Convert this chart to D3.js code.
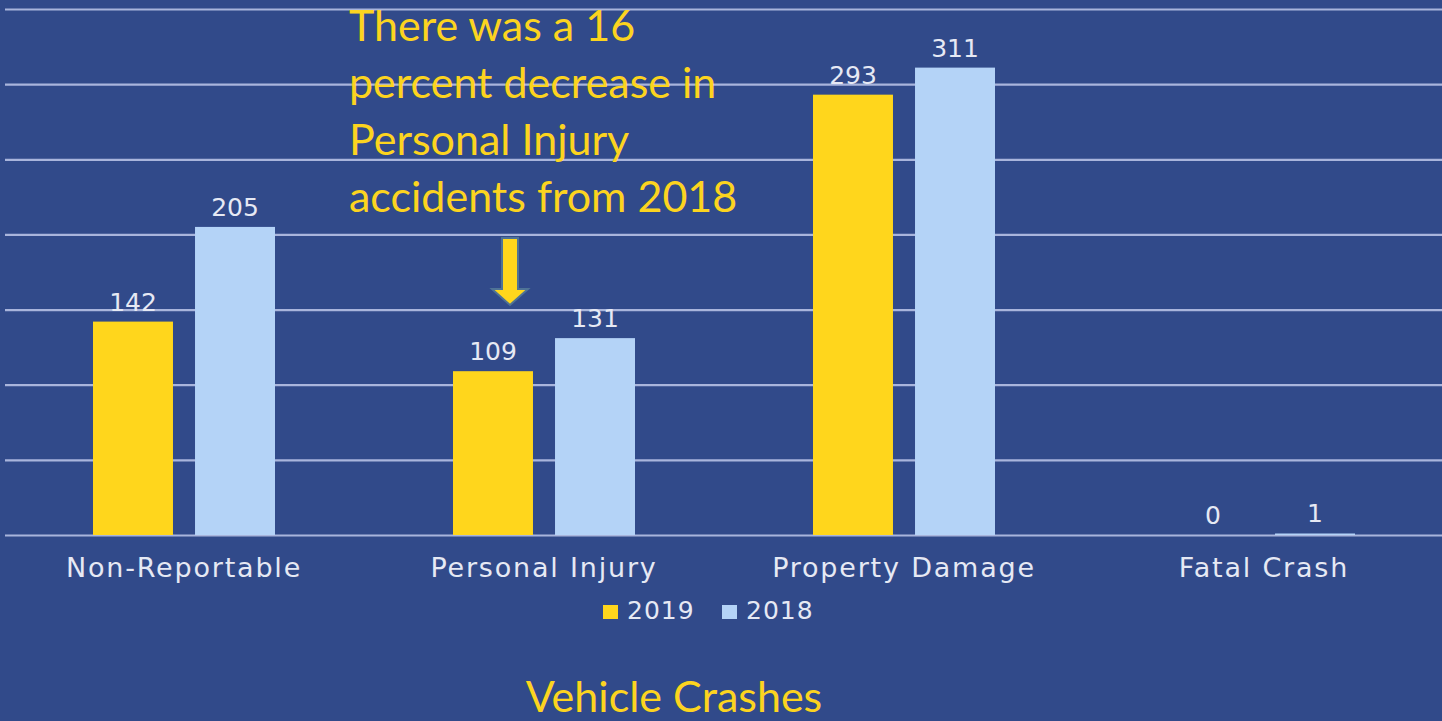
<!DOCTYPE html>
<html>
<head>
<meta charset="utf-8">
<script src="https://cdn.jsdelivr.net/npm/d3@7"></script>
<style>
  html, body { margin: 0; padding: 0; background: #314a8a; }
  svg { display: block; }
</style>
</head>
<body>
<svg id="chart" width="1442" height="721"></svg>
<script>
// data
const categories = ["Non-Reportable", "Personal Injury", "Property Damage", "Fatal Crash"];
const seriesNames = ["2019", "2018"];
const values2019 = [142, 109, 293, 0];
const values2018 = [205, 131, 311, 1];
const yTicks = [0, 50, 100, 150, 200, 250, 300, 350];
const noteLines = ["There was a 16", "percent decrease in", "Personal Injury", "accidents from 2018"];
const chartTitle = "Vehicle Crashes";

const colors = {"2019": "#ffd61c", "2018": "#b4d3f7"};
const bg = "#314a8a";

let svg = d3.select("#chart");
let W = 1442, H = 721;

svg.append("rect").attr("width", W).attr("height", H).attr("fill", bg);

// scales
let margin = {top: 9, right: -2, bottom: 186, left: 4};
let xScale = d3.scaleBand()
    .domain(categories)
    .range([margin.left, W - margin.right])
    .padding(0);
let xInner = d3.scaleBand()
    .domain(seriesNames)
    .range([89, 271])
    .paddingInner(0.216)
    .paddingOuter(0);
let yScale = d3.scaleLinear()
    .domain([0, 350])
    .range([H - margin.bottom, margin.top]);

// gridlines
let grid = svg.append("g")
    .attr("class", "grid")
    .attr("transform", "translate(5,0)")
    .call(d3.axisLeft(yScale).tickValues(yTicks).tickSize(-(W - 5)).tickFormat(""));
grid.select(".domain").remove();
grid.selectAll("line")
    .attr("stroke", "#a9b5dc")
    .attr("stroke-width", 2.2);

// bars
let rows = categories.map(function(c, i) {
    return {cat: c, vals: [
        {key: "2019", v: values2019[i]},
        {key: "2018", v: values2018[i]}
    ]};
});

let groups = svg.append("g").attr("class", "bars")
    .selectAll("g")
    .data(rows)
    .enter().append("g")
    .attr("transform", function(d) { return `translate(${xScale(d.cat)},0)`; });

groups.selectAll("rect")
    .data(function(d) { return d.vals; })
    .enter().append("rect")
    .attr("x", function(d) { return xInner(d.key); })
    .attr("y", function(d) { return yScale(d.v); })
    .attr("width", xInner.bandwidth())
    .attr("height", function(d) { return yScale(0) - yScale(d.v); })
    .attr("fill", function(d) { return colors[d.key]; });

groups.selectAll("text")
    .data(function(d) { return d.vals; })
    .enter().append("text")
    .attr("x", function(d) { return xInner(d.key) + xInner.bandwidth() / 2; })
    .attr("y", function(d) { return yScale(d.v) - 11; })
    .attr("text-anchor", "middle")
    .attr("font-family", "'Century Gothic', 'DejaVu Sans', sans-serif")
    .attr("font-size", 25)
    .attr("fill", "#e6e9f4")
    .text(function(d) { return d.v; });

// category labels
let xAxis = svg.append("g")
    .attr("class", "x-axis")
    .attr("transform", `translate(0, ${yScale(0)})`)
    .call(d3.axisBottom(xScale).tickSize(0).tickPadding(0));
xAxis.select(".domain").remove();
xAxis.selectAll("text")
    .attr("dy", null)
    .attr("y", 42)
    .attr("font-family", "'Century Gothic', 'DejaVu Sans', sans-serif")
    .attr("font-size", 27)
    .attr("letter-spacing", 1.8)
    .attr("fill", "#e6e9f4");

// legend
let legend = svg.append("g").attr("class", "legend");
let legendX = {"2019": 603, "2018": 722};
seriesNames.forEach(function(s) {
    legend.append("rect")
        .attr("x", legendX[s])
        .attr("y", 605)
        .attr("width", 15)
        .attr("height", 14)
        .attr("fill", colors[s]);
    legend.append("text")
        .attr("x", legendX[s] + 24)
        .attr("y", 619)
        .attr("font-family", "'Century Gothic', 'DejaVu Sans', sans-serif")
        .attr("font-size", 25)
        .attr("letter-spacing", 1)
        .attr("fill", "#e6e9f4")
        .text(s);
});

// annotation
let note = svg.append("g").attr("class", "note");
note.selectAll("text")
    .data(noteLines)
    .enter().append("text")
    .attr("x", 349)
    .attr("y", function(d, i) { return 41 + i * 57; })
    .attr("font-family", "Lato, 'Noto Sans', sans-serif")
    .attr("font-size", 43)
    .attr("fill", "#fcd41f")
    .text(function(d) { return d; });

// arrow pointing at Personal Injury
let ax = 510;
let arrowPts = [
    [ax - 8, 238], [ax + 8, 238], [ax + 8, 289], [ax + 18, 289],
    [ax, 305], [ax - 18, 289], [ax - 8, 289]
];
note.append("path")
    .attr("d", d3.line()(arrowPts) + "Z")
    .attr("fill", "#ffd61c")
    .attr("stroke", "#4f7396")
    .attr("stroke-width", 2);

// title
svg.append("text")
    .attr("x", 674)
    .attr("y", 712)
    .attr("text-anchor", "middle")
    .attr("font-family", "Lato, 'Noto Sans', sans-serif")
    .attr("font-size", 43)
    .attr("fill", "#fcd41f")
    .text(chartTitle);
</script>
</body>
</html>
